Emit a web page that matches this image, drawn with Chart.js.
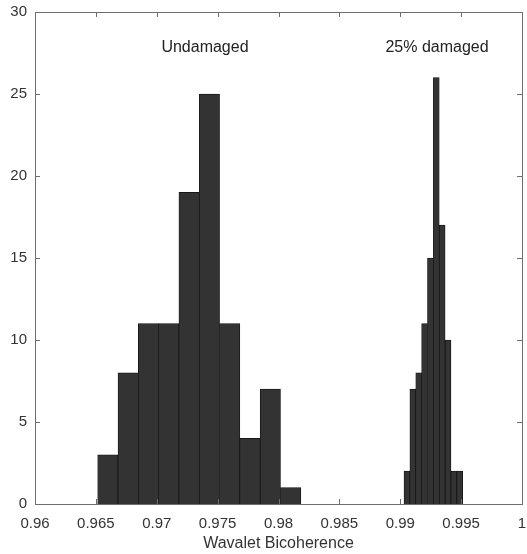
<!DOCTYPE html>
<html>
<head>
<meta charset="utf-8">
<title>Wavalet Bicoherence histogram</title>
<script src="https://cdn.jsdelivr.net/npm/chart.js@4.4.1/dist/chart.umd.min.js"></script>
<style>
  html, body { margin: 0; padding: 0; background: #fff; }
  #wrap { width: 527px; height: 554px; }
</style>
</head>
<body>
<div id="wrap"><canvas id="chart"></canvas></div>
<script>
// bin centres and counts
const undamagedBins   = [0.965984, 0.967652, 0.969320, 0.970988, 0.972656,
                         0.974324, 0.975992, 0.977660, 0.979328, 0.980996];
const undamagedCounts = [3, 8, 11, 11, 19, 25, 11, 4, 7, 1];

const damagedBins     = [0.990551, 0.991033, 0.991515, 0.991997, 0.992479,
                         0.992961, 0.993443, 0.993925, 0.994407, 0.994889];
const damagedCounts   = [2, 7, 8, 11, 15, 26, 17, 10, 2, 2];

const xTicks = [0.96, 0.965, 0.97, 0.975, 0.98, 0.985, 0.99, 0.995, 1];
const yTicks = [0, 5, 10, 15, 20, 25, 30];

const groupLabels = ['Undamaged', '25% damaged'];

const FONT = '"Liberation Sans", Arial, Helvetica, sans-serif';
const AXIS = '#6e6e6e';
const TEXT = '#333333';
const BAR_FILL = '#333333';
const BAR_EDGE = '#111111';

const toPoints = (xs, ys) => xs.map((x, i) => ({ x, y: ys[i] }));

// MATLAB-like box with inward tick marks on all four sides
const matlabBox = {
  id: 'matlabBox',
  afterDatasetsDraw(chart, args, opts) {
    const { ctx, chartArea: a, scales } = chart;
    const len = opts.tickLength;
    ctx.save();
    ctx.strokeStyle = opts.color;
    ctx.lineWidth = 1;
    ctx.beginPath();
    scales.x.ticks.forEach(t => {
      const px = Math.round(scales.x.getPixelForValue(t.value)) + 0.5;
      ctx.moveTo(px, a.bottom); ctx.lineTo(px, a.bottom - len);
      ctx.moveTo(px, a.top);    ctx.lineTo(px, a.top + len);
    });
    scales.y.ticks.forEach(t => {
      const py = Math.round(scales.y.getPixelForValue(t.value)) + 0.5;
      ctx.moveTo(a.left, py);  ctx.lineTo(a.left + len, py);
      ctx.moveTo(a.right, py); ctx.lineTo(a.right - len, py);
    });
    ctx.stroke();
    ctx.strokeRect(Math.round(a.left) + 0.5, Math.round(a.top) + 0.5,
                   Math.round(a.right - a.left), Math.round(a.bottom - a.top));
    ctx.restore();
  }
};

// text annotations placed in data coordinates
const groupText = {
  id: 'groupText',
  afterDatasetsDraw(chart, args, opts) {
    const { ctx, scales } = chart;
    ctx.save();
    ctx.font = opts.font;
    ctx.fillStyle = opts.color;
    ctx.textAlign = 'center';
    ctx.textBaseline = 'middle';
    opts.items.forEach(it => {
      ctx.fillText(it.text, scales.x.getPixelForValue(it.x), scales.y.getPixelForValue(it.y));
    });
    ctx.restore();
  }
};

const barStyle = {
  backgroundColor: BAR_FILL,
  borderColor: BAR_EDGE,
  borderWidth: 0.75,
  borderSkipped: 'start',
  barPercentage: 1,
  categoryPercentage: 1,
  grouped: false
};

new Chart(document.getElementById('chart'), {
  type: 'bar',
  data: {
    datasets: [
      Object.assign({ label: groupLabels[0], data: toPoints(undamagedBins, undamagedCounts), xAxisID: 'x' }, barStyle),
      Object.assign({ label: groupLabels[1], data: toPoints(damagedBins, damagedCounts), xAxisID: 'x2' }, barStyle)
    ]
  },
  options: {
    responsive: true,
    maintainAspectRatio: false,
    animation: false,
    layout: { padding: { top: 12, right: 5, left: 0, bottom: 0 } },
    plugins: {
      legend: { display: false },
      tooltip: { enabled: false },
      matlabBox: { color: AXIS, tickLength: 5 },
      groupText: {
        font: '16px ' + FONT,
        color: '#222222',
        items: [
          { text: groupLabels[0], x: 0.97396, y: 27.85 },
          { text: groupLabels[1], x: 0.99302, y: 27.85 }
        ]
      }
    },
    scales: {
      x: {
        type: 'linear',
        min: 0.96,
        max: 1,
        offset: false,
        grid: { display: false, drawTicks: false, offset: false },
        border: { display: false },
        afterBuildTicks: s => { s.ticks = xTicks.map(v => ({ value: v })); },
        afterFit: s => { s.height = 50; s.paddingLeft = 0; s.paddingRight = 0; },
        ticks: {
          autoSkip: false,
          maxRotation: 0,
          padding: 11,
          color: TEXT,
          font: { family: FONT, size: 15 },
          callback: v => String(v)
        },
        title: {
          display: true,
          text: 'Wavalet Bicoherence',
          color: TEXT,
          font: { family: FONT, size: 16 },
          padding: { top: 0, bottom: 1 }
        }
      },
      x2: {
        type: 'linear',
        min: 0.96,
        max: 1,
        offset: false,
        display: false,
        afterBuildTicks: s => { s.ticks = xTicks.map(v => ({ value: v })); }
      },
      y: {
        min: 0,
        max: 30,
        grid: { display: false, drawTicks: false },
        border: { display: false },
        afterBuildTicks: s => { s.ticks = yTicks.map(v => ({ value: v })); },
        afterFit: s => { s.width = 35; s.paddingTop = 0; s.paddingBottom = 0; },
        ticks: {
          padding: 8,
          color: TEXT,
          font: { family: FONT, size: 15 }
        }
      }
    }
  },
  plugins: [matlabBox, groupText]
});
</script>
</body>
</html>
